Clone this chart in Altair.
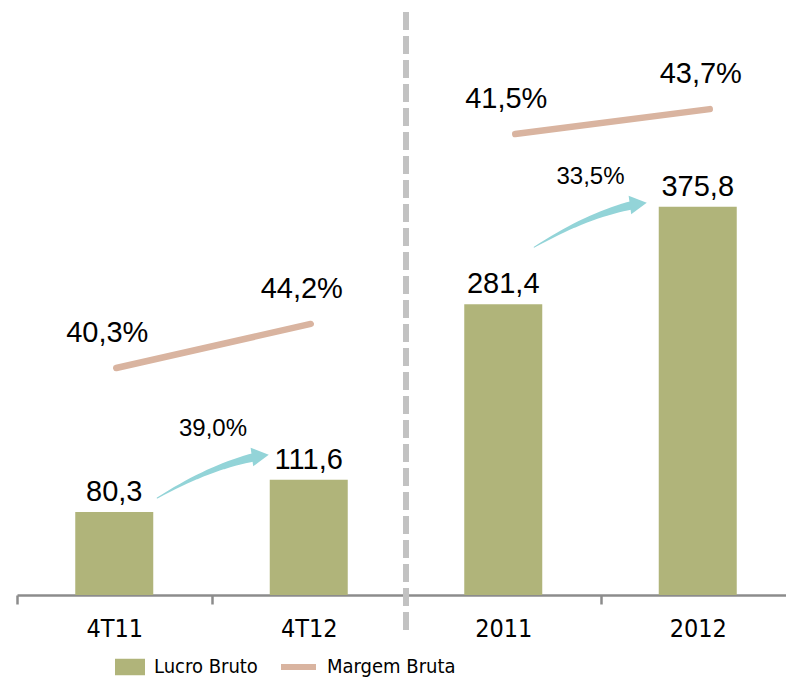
import math
import altair as alt
import pandas as pd

# ---------------- data ----------------
CATS = ["4T11", "4T12", "2011", "2012"]
LUCRO = [80.3, 111.6, 281.4, 375.8]            # Lucro Bruto
MARGEM = [40.3, 44.2, 41.5, 43.7]              # Margem Bruta (%)
GROWTH_LABELS = ["39,0%", "33,5%"]
ARROW_PAIRS = [(0, 1), (2, 3)]

# ---------------- layout / style ----------------
W, H = 778, 587
STEP = W / len(CATS)
Y_MAX = 568
PXU = H / Y_MAX
GREEN, TAN, TEAL, SEP, AX = "#B0B47A", "#D9B4A0", "#93D4D8", "#C2C2C2", "#8C8C8C"
FONT = "Liberation Sans"
NARROW = "Liberation Sans Narrow, Arial Narrow, DejaVu Sans Condensed, sans-serif"
# separate margin scales for the two blocks (px per point ~11.3)
DOM_Q = [20.21, 72.16]
DOM_Y = [0.70, 52.65]
# arrow anchor offsets in px: start relative to (bar centre, bar top), tip relative to next bar
ARROW_OFF = [dict(sx=43, sy=14, tx=-40, ty=25), dict(sx=31, sy=57, tx=-51, ty=4)]

fmt = lambda v: f"{v:.1f}".replace(".", ",")

df_bars = pd.DataFrame({"cat": CATS, "lucro": LUCRO,
                        "label": [fmt(v) for v in LUCRO], "series": "Lucro Bruto"})
df_m = pd.DataFrame({"cat": CATS, "margem": MARGEM,
                     "label": [fmt(v) + "%" for v in MARGEM], "series": "Margem Bruta"})
df_mq, df_my = df_m.iloc[:2], df_m.iloc[2:]
df_sep = pd.DataFrame({"cat": [CATS[2]]})

# ---- arrows built from bar values ----
trail_rows, head_rows, glabel_rows = [], [], []
for k, ((i, j), off) in enumerate(zip(ARROW_PAIRS, ARROW_OFF)):
    ci, cj = (i + 0.5) * STEP, (j + 0.5) * STEP
    ti, tj = H - LUCRO[i] * PXU, H - LUCRO[j] * PXU
    S = (ci + off["sx"], ti - off["sy"])
    T = (cj + off["tx"], tj - off["ty"])
    dx = T[0] - S[0]
    C = (T[0] - 0.45 * dx, T[1] + 0.45 * dx * math.tan(math.radians(8)))
    ux, uy = T[0] - C[0], T[1] - C[1]
    L = math.hypot(ux, uy)
    ux, uy = ux / L, uy / L
    t_end = 1 - 14 / (2 * L)
    n = 18
    for m in range(n + 1):
        t = t_end * m / n
        px = (1 - t) ** 2 * S[0] + 2 * (1 - t) * t * C[0] + t ** 2 * T[0]
        py = (1 - t) ** 2 * S[1] + 2 * (1 - t) * t * C[1] + t ** 2 * T[1]
        trail_rows.append({"arrow": k, "t": t, "xi": px / STEP, "v": (H - py) / PXU,
                           "w": 1.0 + 7.5 * (m / n) ** 0.9})
    hx, hy = T[0] - 8.5 * ux, T[1] - 8.5 * uy
    head_rows.append({"xi": hx / STEP, "v": (H - hy) / PXU,
                      "ang": math.degrees(math.atan2(uy, ux)) % 360})
    glabel_rows.append({"xi": (S[0] + T[0]) / 2 / STEP, "v": (H - (T[1] - 19)) / PXU,
                        "label": GROWTH_LABELS[k]})
df_trail = pd.DataFrame(trail_rows)
df_head = pd.DataFrame(head_rows)
df_glab = pd.DataFrame(glabel_rows)

# ---------------- encodings ----------------
band = alt.Scale(domain=CATS, paddingInner=0, paddingOuter=0)
x_noaxis = alt.X("cat:N", scale=band, sort=CATS, axis=None)
y_bar = alt.Y("lucro:Q", scale=alt.Scale(domain=[0, Y_MAX], nice=False), axis=None)
xq = alt.X("xi:Q", scale=alt.Scale(domain=[0, 4], nice=False, zero=False), axis=None)
yq = alt.Y("v:Q", scale=alt.Scale(domain=[0, Y_MAX], nice=False), axis=None)

sep = alt.Chart(df_sep).mark_rule(color=SEP, strokeWidth=6, strokeDash=[18, 6]).encode(
    x=alt.X("cat:N", scale=band, sort=CATS, bandPosition=0, axis=None),
    y=alt.value(4), y2=alt.value(622))

bars = alt.Chart(df_bars).mark_bar(width=alt.RelativeBandSize(78 / 194.5)).encode(
    x=alt.X("cat:N", scale=band, sort=CATS,
            axis=alt.Axis(title=None, labelAngle=0, tickBand="extent", domainColor=AX,
                          domainWidth=2.5, tickColor=AX, tickWidth=2.5, tickSize=9,
                          labelFont=NARROW, labelFontSize=25, labelColor="black",
                          labelPadding=12)),
    y=y_bar,
    fill=alt.Fill("series:N", scale=alt.Scale(domain=["Lucro Bruto"], range=[GREEN]),
                  legend=alt.Legend(title=None, orient="none", legendX=98, legendY=644,
                                    symbolType="M-1,-0.55H1V0.55H-1Z", symbolSize=900,
                                    symbolStrokeWidth=0, labelFont=NARROW, labelFontSize=20,
                                    labelColor="black", labelOffset=9, padding=0)))

bar_lbl = alt.Chart(df_bars).mark_text(font=FONT, fontSize=29, baseline="alphabetic",
                                       dy=-11, color="black").encode(
    x=x_noaxis, y=y_bar, text="label:N")

line_legend = alt.Legend(title=None, orient="none", legendX=261, legendY=638.5,
                         symbolType="stroke", symbolSize=1225, symbolStrokeWidth=6,
                         labelFont=NARROW, labelFontSize=20, labelColor="black",
                         labelOffset=8, padding=0)
stroke_enc = alt.Stroke("series:N", scale=alt.Scale(domain=["Margem Bruta"], range=[TAN]),
                        legend=line_legend)


def margin_layers(df, dom, xoff):
    ym = alt.Y("margem:Q", scale=alt.Scale(domain=dom, nice=False, zero=False), axis=None)
    ln = alt.Chart(df).mark_line(strokeWidth=6.5, strokeCap="round", xOffset=xoff).encode(
        x=x_noaxis, y=ym, stroke=stroke_enc)
    tx = alt.Chart(df).mark_text(font=FONT, fontSize=29, baseline="alphabetic",
                                 dx=-9 + xoff, dy=-26, color="black").encode(
        x=x_noaxis, y=ym, text="label:N")
    return [ln, tx]


trail = alt.Chart(df_trail).mark_trail(color=TEAL).encode(
    x=xq, y=yq, size=alt.Size("w:Q", scale=None, legend=None),
    detail="arrow:N", order="t:Q")
head = alt.Chart(df_head).mark_point(shape="M1,0L-1,-1.1L-1,1.1Z", filled=True, size=289,
                                     color=TEAL, opacity=1, strokeWidth=0).encode(
    x=xq, y=yq, angle=alt.Angle("ang:Q", scale=None))
glab = alt.Chart(df_glab).mark_text(font=FONT, fontSize=24, baseline="alphabetic",
                                    color="black").encode(x=xq, y=yq, text="label:N")

chart = alt.layer(
    sep, bars, bar_lbl,
    *margin_layers(df_mq, DOM_Q, 2),
    *margin_layers(df_my, DOM_Y, 12),
    trail, head, glab,
).resolve_scale(x="independent", y="independent").properties(
    width=W, height=H,
    autosize=alt.AutoSizeParams(type="none"),
    padding={"left": 9, "top": 0, "right": -9, "bottom": 85},
).configure_view(stroke=None).configure_axis(grid=False)

chart.save("out.html", embed_options={"renderer": "svg", "actions": False})
